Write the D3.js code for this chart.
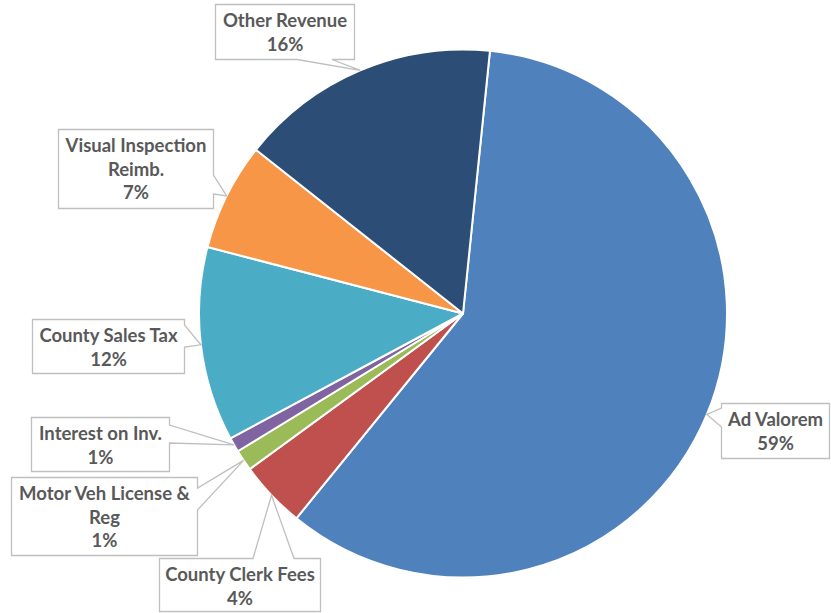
<!DOCTYPE html>
<html>
<head>
<meta charset="utf-8">
<script src="https://cdn.jsdelivr.net/npm/d3@7"></script>
<style>
    body { margin: 0; background: #ffffff; }
    .calloutbox { fill: #ffffff; stroke: #bfbfbf; stroke-width: 1.3; }
    .calloutlabel { font-family: Lato, "Open Sans", sans-serif; font-weight: bold; font-size: 18.5px; fill: #595959; }
</style>
</head>
<body>
<div id="chart-area"></div>
<script>
// revenue categories, in the order Excel draws them (clockwise)
var categories = ["Ad Valorem", "County Clerk Fees", "Motor Veh License & Reg", "Interest on Inv.",
    "County Sales Tax", "Visual Inspection Reimb.", "Other Revenue"];
var shares = [59.3, 4.1, 1.3, 0.9, 11.9, 6.6, 16.0];
var sliceColors = ["#4f81bd", "#c0504d", "#9bbb59", "#8064a2", "#4bacc6", "#f79646", "#2c4d75"];

// callout boxes: where each label sits and which side its pointer leaves from
var callouts = [
    {lines: ["Ad Valorem"], box: {x: 721.5, y: 403.5, w: 108, h: 55}, side: "left", base: [408, 427]},
    {lines: ["County Clerk Fees"], box: {x: 159.5, y: 558.5, w: 161, h: 53}, side: "top", base: [253, 294]},
    {lines: ["Motor Veh License &", "Reg"], box: {x: 11.5, y: 477.5, w: 186, h: 78}, side: "right", base: [488, 510]},
    {lines: ["Interest on Inv."], box: {x: 31.5, y: 417.5, w: 138, h: 54}, side: "right", base: [425, 443]},
    {lines: ["County Sales Tax"], box: {x: 32.5, y: 319.5, w: 152, h: 54}, side: "right", base: [325, 347]},
    {lines: ["Visual Inspection", "Reimb."], box: {x: 58.5, y: 129.5, w: 155, h: 79}, side: "right", base: [175, 194]},
    {lines: ["Other Revenue"], box: {x: 215.5, y: 4.5, w: 139, h: 55}, side: "bottom", base: [297, 332]}
];

RevenuePie = function(_parentElement) {
    this.parentElement = _parentElement;
    this.initVis();
};

RevenuePie.prototype.initVis = function() {
    var vis = this;

    vis.width = 831;
    vis.height = 613;
    vis.cx = 463;
    vis.cy = 313.5;
    vis.radius = 264;
    // first slice boundary sits a little right of 12 o'clock
    vis.firstAngle = 5.86 * Math.PI / 180;

    vis.svg = d3.select("#" + vis.parentElement).append("svg")
        .attr("width", vis.width)
        .attr("height", vis.height);

    vis.wrangleData();
};

RevenuePie.prototype.wrangleData = function() {
    var vis = this;

    var total = d3.sum(shares);
    vis.displayData = categories.map(function(c, i) {
        return {name: c, value: shares[i], pct: shares[i] / total, color: sliceColors[i], callout: callouts[i]};
    });

    vis.updateVis();
};

RevenuePie.prototype.updateVis = function() {
    var vis = this;

    var pie = d3.pie()
        .sort(null)
        .value(function(d) { return d.value; })
        .startAngle(vis.firstAngle)
        .endAngle(vis.firstAngle + 2 * Math.PI);

    var arc = d3.arc().innerRadius(0).outerRadius(vis.radius);
    // zero-width ring: its centroid is the mid point of each slice's rim
    var rim = d3.arc().innerRadius(vis.radius).outerRadius(vis.radius);

    var arcs = pie(vis.displayData);

    var g = vis.svg.append("g")
        .attr("transform", "translate(" + vis.cx + "," + vis.cy + ")");

    g.selectAll(".slice")
        .data(arcs)
        .enter().append("path")
        .attr("class", "slice")
        .attr("d", arc)
        .attr("fill", function(d) { return d.data.color; })
        .attr("stroke", "#ffffff")
        .attr("stroke-width", 2)
        .attr("stroke-linejoin", "round");

    var fmt = d3.format(".0%");

    function calloutPath(c, tip) {
        var b = c.box, x0 = b.x, y0 = b.y, x1 = b.x + b.w, y1 = b.y + b.h;
        var p = d3.path();
        p.moveTo(x0, y0);
        if (c.side == "top") { p.lineTo(c.base[0], y0); p.lineTo(tip[0], tip[1]); p.lineTo(c.base[1], y0); }
        p.lineTo(x1, y0);
        if (c.side == "right") { p.lineTo(x1, c.base[0]); p.lineTo(tip[0], tip[1]); p.lineTo(x1, c.base[1]); }
        p.lineTo(x1, y1);
        if (c.side == "bottom") { p.lineTo(c.base[1], y1); p.lineTo(tip[0], tip[1]); p.lineTo(c.base[0], y1); }
        p.lineTo(x0, y1);
        if (c.side == "left") { p.lineTo(x0, c.base[1]); p.lineTo(tip[0], tip[1]); p.lineTo(x0, c.base[0]); }
        p.closePath();
        return p.toString();
    }

    var labels = vis.svg.selectAll(".callout")
        .data(arcs)
        .enter().append("g")
        .attr("class", "callout");

    labels.append("path")
        .attr("class", "calloutbox")
        .attr("d", function(d) {
            var c = rim.centroid(d);
            return calloutPath(d.data.callout, [c[0] + vis.cx, c[1] + vis.cy]);
        });

    labels.each(function(d) {
        var c = d.data.callout;
        var lines = c.lines.concat([fmt(d.data.pct)]);
        d3.select(this).selectAll(".calloutlabel")
            .data(lines)
            .enter().append("text")
            .attr("class", "calloutlabel")
            .attr("text-anchor", "middle")
            .attr("x", c.box.x + c.box.w / 2)
            .attr("y", function(t, i) { return c.box.y + 22.5 + i * 23.5; })
            .text(function(t) { return t; });
    });
};

var revenuePie = new RevenuePie("chart-area");
</script>
</body>
</html>
